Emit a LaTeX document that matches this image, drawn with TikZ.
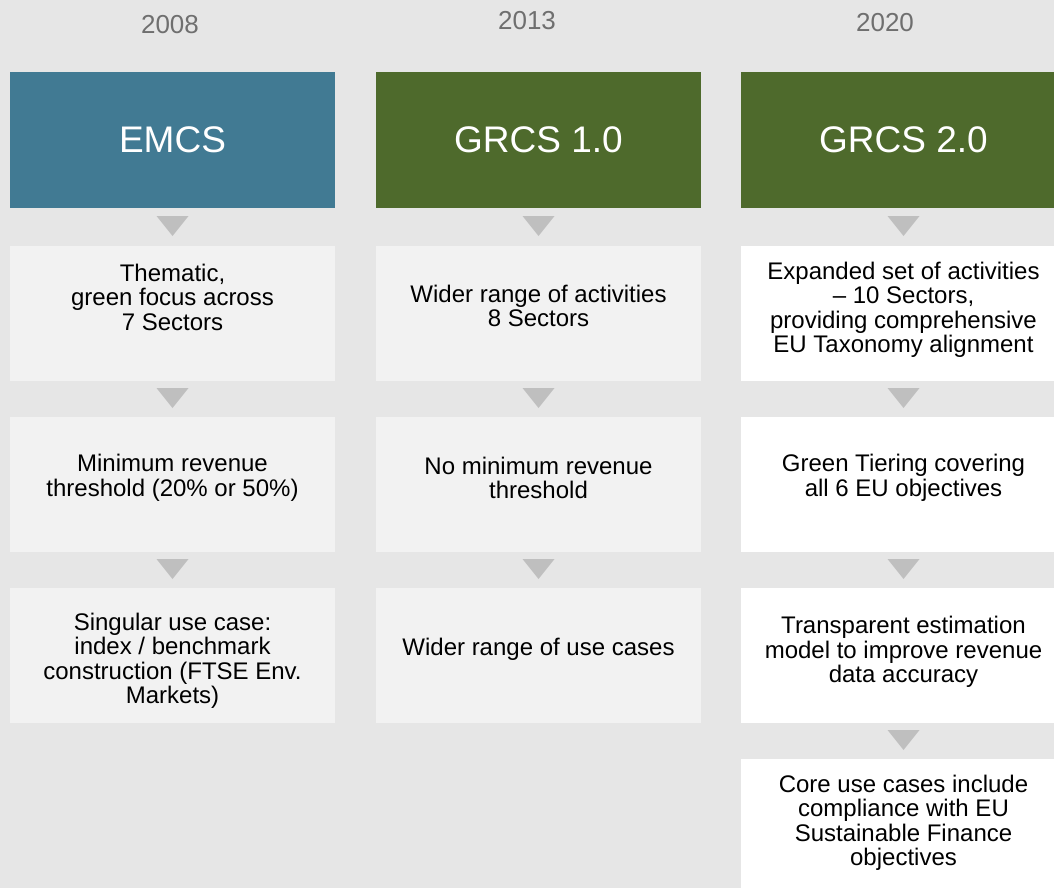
\documentclass[tikz,border=0pt]{standalone}
\usepackage{fontspec}
\setmainfont{Liberation Sans}
\definecolor{bgc}{HTML}{E6E6E6}
\definecolor{blueh}{HTML}{417A93}
\definecolor{greenh}{HTML}{4E6A2C}
\definecolor{lightbox}{HTML}{F2F2F2}
\definecolor{arrowc}{HTML}{BFBFBF}
\definecolor{yearc}{HTML}{6F6F6F}
\tikzset{
  header/.style={minimum width=325pt, minimum height=135pt, inner sep=0pt, text=white, font=\fontsize{37}{40}\selectfont},
  greybox/.style={fill=lightbox, minimum width=325pt, minimum height=134.5pt, inner sep=0pt},
  whitebox/.style={fill=white, minimum width=325pt, minimum height=134.5pt, inner sep=0pt},
  boxtext/.style={align=center, inner sep=0pt, text=black, font=\fontsize{24}{24.5}\selectfont},
  year/.style={text=yearc, inner sep=0pt, font=\fontsize{26}{28}\selectfont},
  tri/.style={fill=arrowc}
}
\newcommand{\downtri}[2]{\fill[tri] (#1-16,#2) -- (#1+16,#2) -- (#1,#2+20) -- cycle;}
\begin{document}
\begin{tikzpicture}[x=1pt,y=-1pt]
\useasboundingbox (0,0) rectangle (1054,888);
\fill[bgc] (0,0) rectangle (1054,888);
\clip (0,0) rectangle (1054,888);
% years
\node[year] (y1) at (170,25) {2008};
\node[year] (y2) at (527,21) {2013};
\node[year] (y3) at (885,23) {2020};
% headers
\node[header, fill=blueh] (h1) at (172.5,140) {EMCS};
\node[header, fill=greenh] (h2) at (538.5,140) {GRCS 1.0};
\node[header, fill=greenh] (h3) at (903.5,140) {GRCS 2.0};
% boxes column 1
\node[greybox] (a1) at (172.5,313.25) {};
\node[greybox] (a2) at (172.5,484.25) {};
\node[greybox] (a3) at (172.5,655.25) {};
% boxes column 2
\node[greybox] (b1) at (538.5,313.25) {};
\node[greybox] (b2) at (538.5,484.25) {};
\node[greybox] (b3) at (538.5,655.25) {};
% boxes column 3
\node[whitebox] (c1) at (903.5,313.25) {};
\node[whitebox] (c2) at (903.5,484.25) {};
\node[whitebox] (c3) at (903.5,655.25) {};
\node[whitebox] (c4) at (903.5,826.25) {};
% triangles
\foreach \x in {172.5,538.5,903.5}{
  \downtri{\x}{216}
  \downtri{\x}{388}
  \downtri{\x}{559}
}
\downtri{903.5}{730}
% texts column 1
\node[boxtext] (ta1) at (172.5,297) {Thematic,\\green focus across\\7 Sectors};
\node[boxtext] (ta2) at (172.5,478) {Minimum revenue\\threshold (20\% or 50\%)};
\node[boxtext] (ta3) at (172.5,661) {Singular use case:\\index / benchmark\\construction (FTSE Env.\\Markets)};
% texts column 2
\node[boxtext] (tb1) at (538.5,306) {Wider range of activities\\8 Sectors};
\node[boxtext] (tb2) at (538.5,478) {No minimum revenue\\threshold};
\node[boxtext] (tb3) at (538.5,649) {Wider range of use cases};
% texts column 3
\node[boxtext] (tc1) at (903.5,310) {Expanded set of activities\\– 10 Sectors,\\providing comprehensive\\EU Taxonomy alignment};
\node[boxtext] (tc2) at (903.5,478) {Green Tiering covering\\all 6 EU objectives};
\node[boxtext] (tc3) at (903.5,652) {Transparent estimation\\model to improve revenue\\data accuracy};
\node[boxtext] (tc4) at (903.5,823) {Core use cases include\\compliance with EU\\Sustainable Finance\\objectives};
\end{tikzpicture}
\end{document}
